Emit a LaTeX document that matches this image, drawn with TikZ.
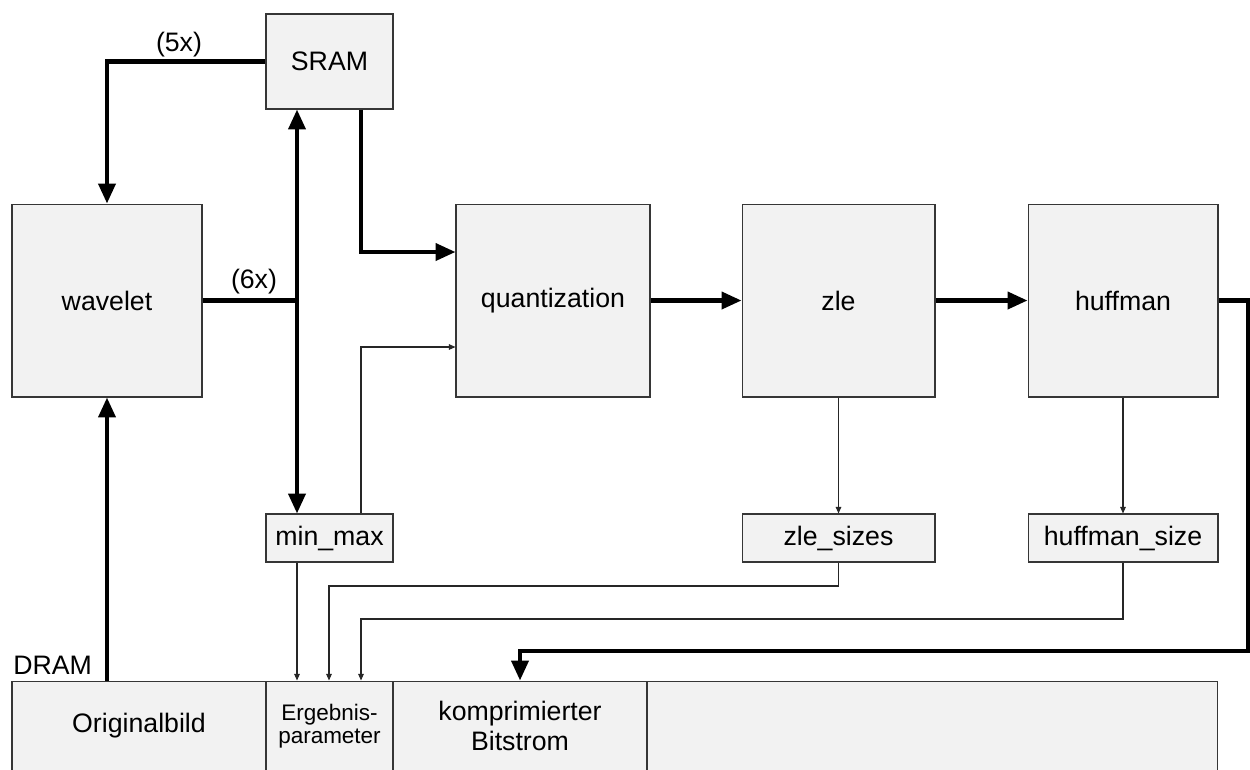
\documentclass[tikz,border=0pt]{standalone}
\usepackage{fontspec}
\setmainfont{Liberation Sans}
\usetikzlibrary{arrows.meta}
\definecolor{boxfill}{HTML}{F2F2F2}
\definecolor{boxline}{HTML}{363636}
\tikzset{
  blk/.style={draw=boxline, fill=boxfill, line width=0.6pt, inner sep=0pt,
              font=\fontsize{15.2}{17}\selectfont, align=center},
  bus/.style={line width=2.3pt, -{Triangle[length=11.3pt,width=9.6pt]}},
  busboth/.style={line width=2.3pt, {Triangle[length=11.3pt,width=9.6pt]}-{Triangle[length=11.3pt,width=9.6pt]}},
  busplain/.style={line width=2.3pt},
  sig/.style={line width=0.6pt, draw=black!85, -{Triangle[length=3.8pt,width=3.2pt]}},
  lbl/.style={font=\fontsize{15.2}{17}\selectfont, inner sep=0pt}
}
\begin{document}
\begin{tikzpicture}[x=0.02cm, y=-0.02cm]
\clip (0,0) rectangle (1250,769);
\fill[white] (0,0) rectangle (1250,769);

% processing blocks
\node[blk, minimum width=2.54cm, minimum height=1.9cm]  (sram)  at (329.5,61.5)  {SRAM};
\node[blk, minimum width=3.8cm,  minimum height=3.86cm] (wav)   at (107,300.5)   {wavelet};
\node[blk, minimum width=3.88cm, minimum height=3.86cm] (quant) at (553,300.5)   {quantization};
\node[blk, minimum width=3.86cm, minimum height=3.86cm] (zle)   at (838.5,300.5) {zle};
\node[blk, minimum width=3.8cm,  minimum height=3.86cm] (huff)  at (1123,300.5)  {huffman};

% parameter registers
\node[blk, minimum width=2.54cm, minimum height=0.96cm] (mm) at (329.5,538) {min\_max};
\node[blk, minimum width=3.86cm, minimum height=0.96cm] (zs) at (838.5,538) {zle\_sizes};
\node[blk, minimum width=3.8cm,  minimum height=0.96cm] (hs) at (1123,538)  {huffman\_size};

% DRAM layout
\node[blk, minimum width=5.08cm,  minimum height=1.8cm] (orig) at (139,726)   {Originalbild};
\node[blk, minimum width=2.54cm,  minimum height=1.8cm,
      font=\fontsize{12.8}{12.9}\selectfont] (erg) at (329.5,726) {Ergebnis-\\parameter};
\node[blk, minimum width=5.08cm,  minimum height=1.8cm] (bits) at (520,726) {komprimierter\\Bitstrom};
\node[blk, minimum width=11.42cm, minimum height=1.8cm] (rest) at (932.5,726) {};
\node[lbl, anchor=base west] (dram) at (13,674) {DRAM};

% routing columns and bends
\coordinate (c297) at (297,0);
\coordinate (c361) at (361,0);
\coordinate (j1) at (361,252);
\coordinate (j2) at (361,347);
\coordinate (j3) at (1248,651);
\coordinate (j4) at (329,586);
\coordinate (j5) at (361,619);

% wide data paths
\draw[bus] (sram.west) -| (wav.north);
\node[lbl, anchor=base] (n5x) at (179,51) {(5x)};
\draw[busboth] (sram.south -| c297) -- (mm.north -| c297);
\draw[busplain] (wav.east) -- (wav.east -| c297);
\node[lbl, anchor=base] (n6x) at (254,288) {(6x)};
\draw[bus] (sram.south -| c361) -- (j1) -- (quant.west |- j1);
\draw[bus] (quant.east) -- (zle.west);
\draw[bus] (zle.east) -- (huff.west);
\draw[bus] (huff.east) -| (j3) -| (bits.north);
\draw[bus] (orig.north -| wav.south) -- (wav.south);

% control signals
\draw[sig] (mm.north -| c361) |- (quant.west |- j2);
\draw[sig] (zle.south) -- (zs.north);
\draw[sig] (huff.south) -- (hs.north);
\draw[sig] (mm.south -| c297) -- (erg.north -| c297);
\draw[sig] (zs.south) |- (j4) -- (erg.north -| j4);
\draw[sig] (hs.south) |- (j5) -- (erg.north -| j5);
\end{tikzpicture}
\end{document}
